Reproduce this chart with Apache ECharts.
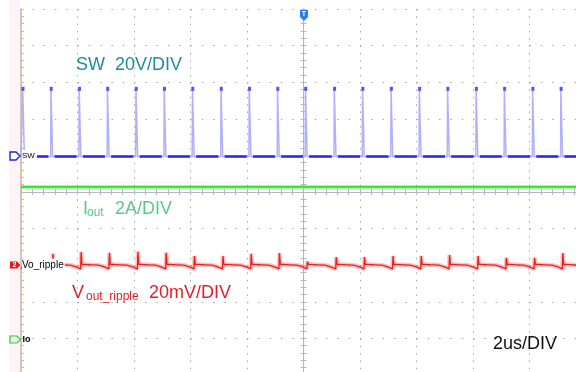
<!DOCTYPE html>
<html>
<head>
<meta charset="utf-8">
<script src="https://cdn.jsdelivr.net/npm/echarts@6/dist/echarts.min.js"></script>
<style>
  html, body { margin: 0; padding: 0; background: #fff; }
  #main { width: 576px; height: 372px; }
</style>
</head>
<body>
<div id="main"></div>
<script>
// x in us (2us/div), y in screen divisions (center = 0)
const pulseTimes = [-9.95, -8.95, -7.95, -6.95, -5.94, -4.94, -3.94, -2.93, -1.93, -0.93,
  0.06, 1.08, 2.08, 3.09, 4.09, 5.09, 6.10, 7.10, 8.10, 9.10];
const swLevels = [0.97, 2.79]; // low, high
const swPulseWidth = 0.06;
const ioutLevel = 0.14;
// ripple shape after each SW edge; index 2 is the spike
const rippleDt = [0, 0.06, 0.08, 0.11, 0.2, 0.45, 0.7, 0.85, 0.95];
const rippleLevel = [-2.07, -2.1, -1.75, -1.98, -1.98, -1.99, -2.0, -2.03, -2.06];
const rippleSpike = [-1.83, -1.69, -1.64, -1.66, -1.63, -1.66, -1.75, -1.75, -1.69, -1.67,
  -1.90, -1.78, -1.78, -1.75, -1.75, -1.72, -1.75, -1.80, -1.80, -1.67];

const FONT = "'Liberation Sans', Arial, sans-serif";

// SW trace: edges + baseline segments + pulse tops
const swTrace = [[-10, swLevels[0]]];
const swBase = [];
const swTops = [];
pulseTimes.forEach((t, i) => {
  swTrace.push([t, swLevels[0]], [t + 0.01, swLevels[1]],
    [t + swPulseWidth, swLevels[1]], [t + swPulseWidth + 0.01, swLevels[0]]);
  swTops.push([t + 0.02, swLevels[1] + 0.03]);
  const end = i + 1 < pulseTimes.length ? pulseTimes[i + 1] - 0.08 : 10.5;
  swBase.push([t + 0.14, swLevels[0]], [end, swLevels[0]], [end, '-']);
});
swTrace.push([10.5, swLevels[0]]);

const rippleTrace = [[-10, -2.06]];
pulseTimes.forEach((t, i) => {
  rippleDt.forEach((dt, j) => {
    rippleTrace.push([t + dt, j === 2 ? rippleSpike[i] : rippleLevel[j]]);
  });
});

const ioutTrace = [[-10, ioutLevel], [10.5, ioutLevel]];

const axisGrey = '#b2b7c4';
const dotGrey = '#a8a8a8';
const tickCfg = (inside) => ({ show: true, inside: inside, length: 3, lineStyle: { color: axisGrey } });
const minorCfg = { show: true, splitNumber: 5, length: 3, lineStyle: { color: axisGrey } };

const option = {
  animation: false,
  backgroundColor: '#fff',
  grid: { left: 21, top: 9, width: 565, height: 366, outerBoundsMode: 'none', containLabel: false },
  xAxis: [
    {
      type: 'value', min: -10, max: 10, interval: 2,
      axisLine: { onZero: true, lineStyle: { color: axisGrey } },
      axisTick: tickCfg(true), minorTick: minorCfg,
      axisLabel: { show: false },
      splitLine: { show: true, lineStyle: { color: dotGrey, width: 1, type: [1.5, 5.82] } }
    },
    {
      type: 'value', position: 'top', min: -10, max: 10, interval: 2,
      axisLine: { onZero: true, onZeroAxisIndex: 0, lineStyle: { color: axisGrey } },
      axisTick: tickCfg(true), minorTick: minorCfg,
      axisLabel: { show: false }, splitLine: { show: false }
    }
  ],
  yAxis: [
    {
      type: 'value', min: -5, max: 5, interval: 1, position: 'left',
      axisLine: { show: true, onZero: false, lineStyle: { color: '#d9c5b0', width: 2 } },
      axisTick: { show: true, inside: true, length: 3, lineStyle: { color: '#bbbbbb' } },
      minorTick: { show: true, splitNumber: 5, length: 3, lineStyle: { color: '#bbbbbb' } },
      axisLabel: { show: false },
      splitLine: { show: true, lineStyle: { color: dotGrey, width: 1, type: [1.5, 9.8] } }
    },
    {
      type: 'value', min: -5, max: 5, interval: 1, position: 'left',
      axisLine: { show: true, onZero: true, lineStyle: { color: axisGrey } },
      axisTick: tickCfg(true), minorTick: minorCfg,
      axisLabel: { show: false }, splitLine: { show: false }
    },
    {
      type: 'value', min: -5, max: 5, interval: 1, position: 'right',
      axisLine: { show: true, onZero: true, onZeroAxisIndex: 0, lineStyle: { color: axisGrey } },
      axisTick: tickCfg(true), minorTick: minorCfg,
      axisLabel: { show: false }, splitLine: { show: false }
    }
  ],
  series: [
    { type: 'line', data: ioutTrace, showSymbol: false, silent: true, z: 3,
      lineStyle: { color: 'rgba(90,235,90,0.5)', width: 4 } },
    { type: 'line', data: ioutTrace, showSymbol: false, silent: true, z: 4,
      lineStyle: { color: '#33dd33', width: 1.8 } },
    { type: 'line', data: swTrace, showSymbol: false, silent: true, z: 3,
      lineStyle: { color: '#b0b0ff', width: 1.5 } },
    { type: 'line', data: swBase, showSymbol: false, silent: true, connectNulls: false, z: 4,
      lineStyle: { color: '#2626ee', width: 2.6 } },
    { type: 'scatter', data: swTops, symbol: 'rect', symbolSize: [3, 4], silent: true, z: 5,
      itemStyle: { color: '#2a2af0' } },
    { type: 'line', data: rippleTrace, showSymbol: false, silent: true, z: 3,
      lineStyle: { color: 'rgba(255,90,90,0.35)', width: 4.5 } },
    { type: 'line', data: rippleTrace, showSymbol: false, silent: true, z: 4,
      lineStyle: { color: '#f01c1c', width: 1.3 } }
  ],
  graphic: [
    { type: 'rect', shape: { x: 9, y: 0, width: 11, height: 372 }, style: { fill: '#fef3f9' }, z: 0 },
    // trigger marker
    { type: 'polygon', shape: { points: [[300, 10], [308, 10], [308, 17], [304, 21], [300, 17]] },
      style: { fill: '#2a7ef2' }, z: 100 },
    { type: 'text', x: 304, y: 14.5, z: 101,
      style: { text: 'T', fill: '#fff', font: 'bold 7px ' + FONT, align: 'center', verticalAlign: 'middle' } },
    // channel markers
    { type: 'polygon', shape: { points: [[10, 152], [16, 152], [20, 156], [16, 160], [10, 160]] },
      style: { fill: '#fff', stroke: '#2222e0', lineWidth: 1.4 }, z: 100 },
    { type: 'polygon', shape: { points: [[10, 261.5], [17, 261.5], [20.5, 265], [17, 268.5], [10, 268.5]] },
      style: { fill: '#e81818' }, z: 100 },
    { type: 'text', x: 14.5, y: 265, z: 101,
      style: { text: '2', fill: '#fff', font: 'bold 7px ' + FONT, align: 'center', verticalAlign: 'middle' } },
    { type: 'polygon', shape: { points: [[10, 336], [17, 336], [20.5, 339.5], [17, 343], [10, 343]] },
      style: { fill: '#e6fbe6', stroke: '#40c040', lineWidth: 1.2 }, z: 100 },
    // channel names on the left
    { type: 'text', x: 22, y: 156, z: 100,
      style: { text: 'SW', fill: '#000', font: '8px ' + FONT, verticalAlign: 'middle',
        backgroundColor: '#fff', padding: [2, 2, 2, 0] } },
    { type: 'text', x: 22, y: 265.5, z: 100,
      style: { text: 'Vo_ripple', fill: '#000', font: '10px ' + FONT, verticalAlign: 'middle',
        backgroundColor: '#fff', padding: [1, 1, 3, 0] } },
    { type: 'text', x: 22.5, y: 339.5, z: 100,
      style: { text: 'Io', fill: '#000', font: 'bold 9px ' + FONT, verticalAlign: 'middle' } },
    // annotations
    { type: 'text', x: 76, y: 65.4, z: 100,
      style: { text: 'SW  20V/DIV', fill: '#1e8c9c', font: '18px ' + FONT, verticalAlign: 'middle' } },
    { type: 'text', x: 83, y: 208.7, z: 100,
      style: { text: 'I', fill: '#5cc888', font: '18px ' + FONT, verticalAlign: 'middle' } },
    { type: 'text', x: 87, y: 212.5, z: 100,
      style: { text: 'out', fill: '#5cc888', font: '12px ' + FONT, verticalAlign: 'middle' } },
    { type: 'text', x: 115, y: 208.7, z: 100,
      style: { text: '2A/DIV', fill: '#5cc888', font: '18px ' + FONT, verticalAlign: 'middle' } },
    { type: 'text', x: 72, y: 292.7, z: 100,
      style: { text: 'V', fill: '#e41e24', font: '18px ' + FONT, verticalAlign: 'middle' } },
    { type: 'text', x: 86, y: 296.3, z: 100,
      style: { text: 'out_ripple', fill: '#e41e24', font: '12px ' + FONT, verticalAlign: 'middle' } },
    { type: 'text', x: 149, y: 292.7, z: 100,
      style: { text: '20mV/DIV', fill: '#e41e24', font: '18px ' + FONT, verticalAlign: 'middle' } },
    { type: 'text', x: 493, y: 344.4, z: 100,
      style: { text: '2us/DIV', fill: '#111', font: '18px ' + FONT, verticalAlign: 'middle' } }
  ]
};

const myChart = echarts.init(document.getElementById('main'));
myChart.setOption(option);
</script>
</body>
</html>
